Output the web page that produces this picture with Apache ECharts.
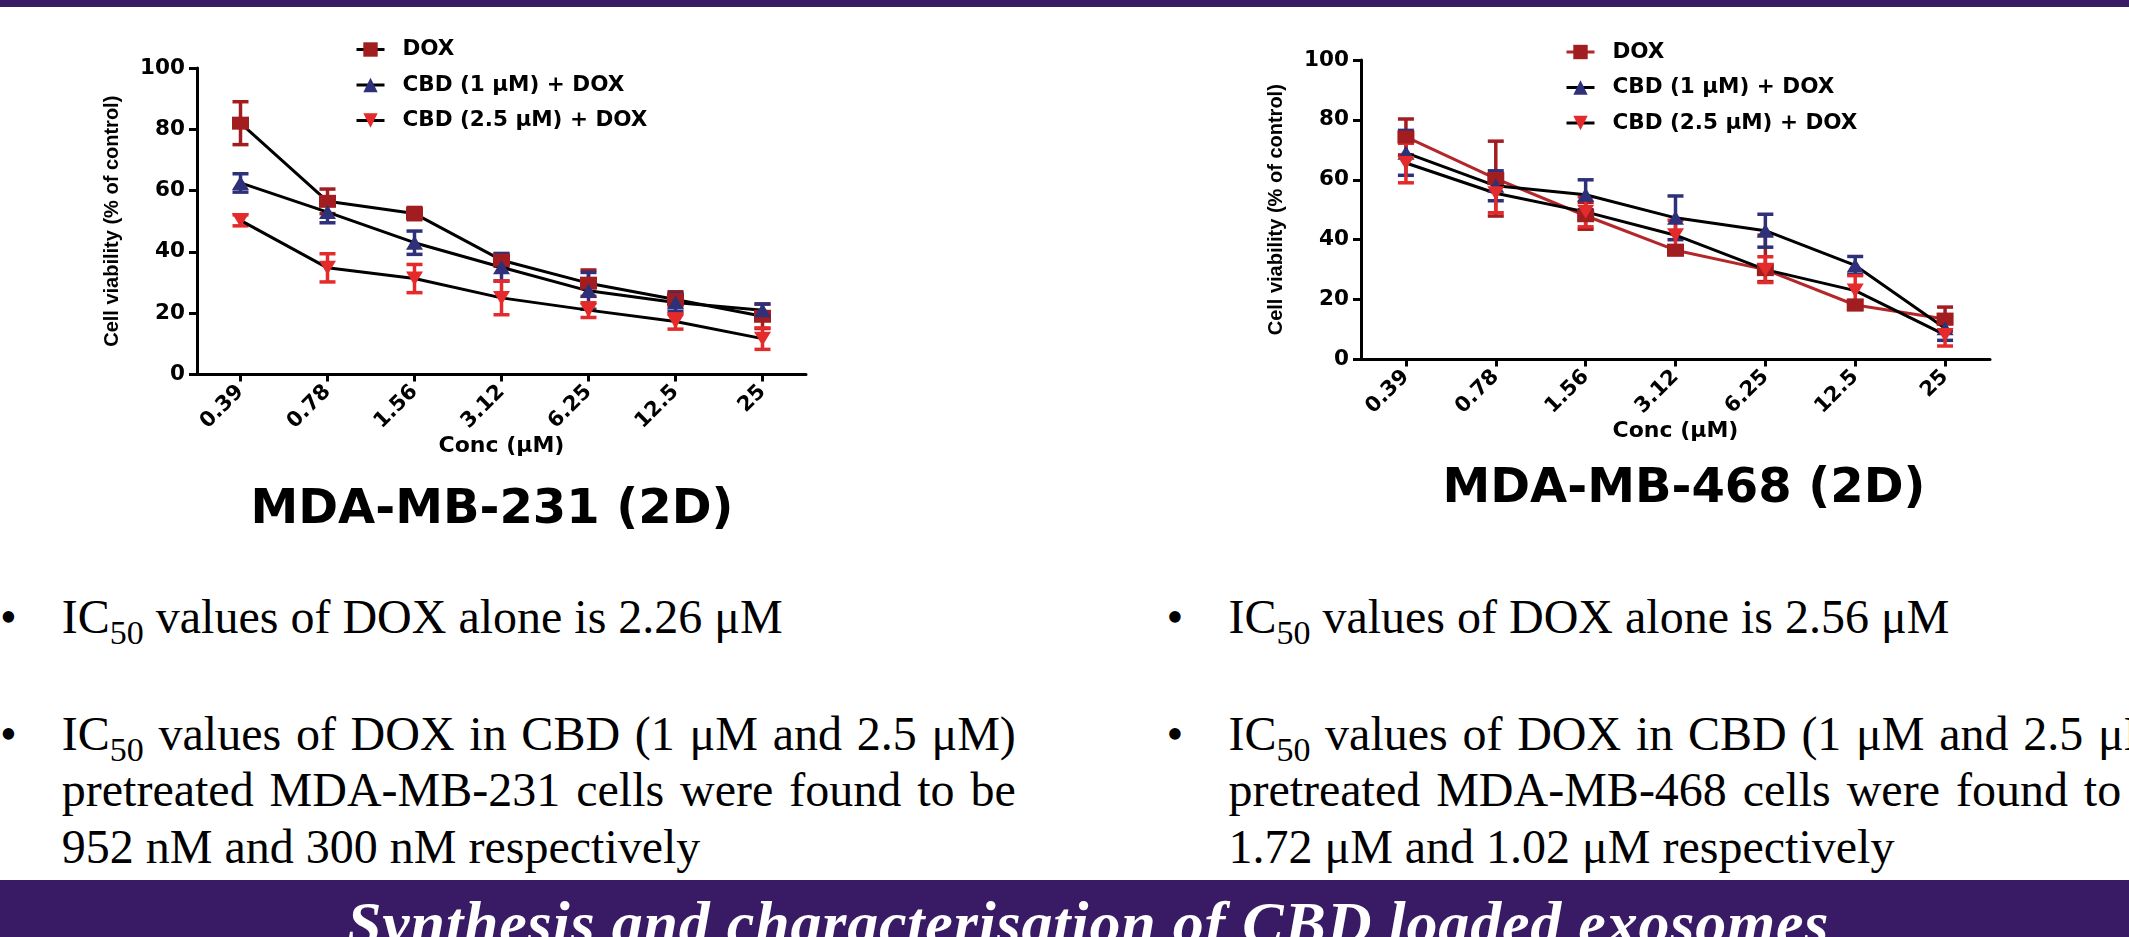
<!DOCTYPE html>
<html>
<head>
<meta charset="utf-8">
<title>DOX / CBD cell viability</title>
<script src="https://cdn.jsdelivr.net/npm/echarts@6.0.0/dist/echarts.min.js"></script>
<style>
  html, body { margin:0; padding:0; width:2129px; height:937px; overflow:hidden; background:#ffffff; }
  #chart { position:absolute; left:0; top:0; width:2129px; height:937px; z-index:2; }
  .band { position:absolute; left:0; width:2129px; background:#381b64; z-index:1; }
  .bul { position:absolute; z-index:1; font-family:"Liberation Serif","Times New Roman",serif; font-size:48px; line-height:56.5px; color:#000; text-align:justify; padding-left:61.8px; text-indent:-61.8px; width:954px; }
  .bul .dot { display:inline-block; width:61.8px; text-indent:0; }
  .bul sub { font-size:34px; vertical-align:-11px; line-height:0; }
  #banner { position:absolute; z-index:3; left:347px; top:891.5px; font-family:"Liberation Serif","Times New Roman",serif; font-weight:bold; font-style:italic; font-size:62px; line-height:62px; color:#fff; white-space:nowrap; letter-spacing:0.8px; }
</style>
</head>
<body>
<div class="band" style="top:0;height:7px;"></div>
<div class="band" style="top:880px;height:57px;"></div>
<div id="banner">Synthesis and characterisation of CBD loaded exosomes</div>

<div class="bul" style="left:0;top:588.5px;"><span class="dot">•</span>IC<sub>50</sub> values of DOX alone is 2.26 μM</div>
<div class="bul" style="left:0;top:705.5px;"><span class="dot">•</span>IC<sub>50</sub> values of DOX in CBD (1 μM and 2.5 μM) pretreated MDA-MB-231 cells were found to be 952 nM and 300 nM respectively</div>
<div class="bul" style="left:1166.6px;top:588.5px;"><span class="dot">•</span>IC<sub>50</sub> values of DOX alone is 2.56 μM</div>
<div class="bul" style="left:1166.6px;top:705.5px;"><span class="dot">•</span>IC<sub>50</sub> values of DOX in CBD (1 μM and 2.5 μM) pretreated MDA-MB-468 cells were found to be 1.72 μM and 1.02 μM respectively</div>

<div id="chart"></div>
<script>
// ---------------- data ----------------
const categories = ['0.39', '0.78', '1.56', '3.12', '6.25', '12.5', '25'];
const seriesNames = ['DOX', 'CBD (1 μM) + DOX', 'CBD (2.5 μM) + DOX'];
const panelTitles = ['MDA-MB-231 (2D)', 'MDA-MB-468 (2D)'];
const xAxisTitle = 'Conc (μM)';
const yAxisTitle = 'Cell viability (% of control)';
const yMin = 0, yMax = 100, yStep = 20;

// MDA-MB-231 (2D): mean and error (upper / lower), % of control
const mb231Dox      = [82, 56.5, 52.5, 37.3, 29.8, 24.5, 19];
const mb231DoxErr   = [7, 4, 2, 2, 4.3, 2.5, 4];
const mb231Cbd1     = [62.5, 53, 43, 35, 27.3, 23.5, 21];
const mb231Cbd1Err  = [3, 3.5, 3.8, 4.5, 6, 3, 2];
const mb231Cbd25    = [50.3, 34.8, 31.3, 25, 21, 17.3, 11.7];
const mb231Cbd25Err = [1.8, 4.6, 4.6, 5.5, 2.4, 2.5, 3.5];

// MDA-MB-468 (2D)
const mb468Dox        = [74.3, 60.4, 48, 36.5, 30, 18.2, 13.5];
const mb468DoxErrUp   = [6, 12.5, 4.5, 1.5, 11.5, 1.5, 4];
const mb468DoxErrDown = [6, 12.5, 4.5, 1.5, 4, 1.5, 4];
const mb468Cbd1       = [69, 58, 55, 47.3, 43, 31.4, 10.4];
const mb468Cbd1Err    = [7.5, 5, 5, 7.3, 5.5, 3, 4];
const mb468Cbd25      = [65.6, 55.5, 49.3, 41.5, 30, 23, 8.2];
const mb468Cbd25Err   = [6.6, 6.5, 5, 5, 4.3, 5, 3.7];

// ---------------- styles ----------------
const markerColors = ['#a11d20', '#2e3179', '#e42a2a'];
const markerSymbols = ['rect', 'triangle', 'path://M0,0L10,0L5,9Z'];
const markerSizes = [[17, 13], [17, 14], [17, 14]];
const boldWide = '"DejaVu Sans", sans-serif';

const panels = [
  { grid: { left: 197, top: 68, width: 609, height: 306.5 },
    sets: [[mb231Dox, mb231DoxErr, mb231DoxErr], [mb231Cbd1, mb231Cbd1Err, mb231Cbd1Err], [mb231Cbd25, mb231Cbd25Err, mb231Cbd25Err]],
    lineColors: ['#000', '#000', '#000'],
    legend: { left: 355, top: 38.5 }, title: { x: 492, y: 511 } },
  { grid: { left: 1361, top: 60, width: 629, height: 299.5 },
    sets: [[mb468Dox, mb468DoxErrUp, mb468DoxErrDown], [mb468Cbd1, mb468Cbd1Err, mb468Cbd1Err], [mb468Cbd25, mb468Cbd25Err, mb468Cbd25Err]],
    lineColors: ['#b3262a', '#000', '#000'],
    legend: { left: 1565, top: 41 }, title: { x: 1684, y: 490 } }
];

function makeErr(color) {
  return function (params, api) {
    const x = api.value(0);
    const lo = api.coord([x, api.value(1)]);
    const hi = api.coord([x, api.value(2)]);
    const w = 8;
    const st = { stroke: color, lineWidth: 3.5 };
    return { type: 'group', children: [
      { type: 'line', shape: { x1: lo[0], y1: lo[1], x2: hi[0], y2: hi[1] }, style: st },
      { type: 'line', shape: { x1: lo[0] - w, y1: lo[1], x2: lo[0] + w, y2: lo[1] }, style: st },
      { type: 'line', shape: { x1: hi[0] - w, y1: hi[1], x2: hi[0] + w, y2: hi[1] }, style: st }
    ] };
  };
}

const grids = [], xAxes = [], yAxes = [], legends = [], lineSeries = [], errSeries = [], graphics = [];
panels.forEach((p, pi) => {
  grids.push(Object.assign({ containLabel: false }, p.grid));
  xAxes.push({
    type: 'category', gridIndex: pi, data: categories, boundaryGap: true,
    axisLine: { show: true, lineStyle: { color: '#000', width: 3 } },
    axisTick: { show: true, alignWithLabel: true, length: 7, lineStyle: { color: '#000', width: 3 } },
    axisLabel: { rotate: 45, margin: 14, interval: 0, fontFamily: boldWide, fontWeight: 'bold', fontSize: 21, color: '#000' },
    splitLine: { show: false },
    name: xAxisTitle, nameLocation: 'middle', nameGap: 60,
    nameTextStyle: { fontFamily: boldWide, fontWeight: 'bold', fontSize: 22, color: '#000' }
  });
  yAxes.push({
    type: 'value', gridIndex: pi, min: yMin, max: yMax, interval: yStep,
    axisLine: { show: true, lineStyle: { color: '#000', width: 3 } },
    axisTick: { show: true, length: 8, lineStyle: { color: '#000', width: 3 } },
    axisLabel: { margin: 12, fontFamily: boldWide, fontWeight: 'bold', fontSize: 21.5, color: '#000' },
    splitLine: { show: false },
    name: yAxisTitle, nameLocation: 'middle', nameGap: 75,
    nameTextStyle: { fontFamily: '"Liberation Sans", Arial, sans-serif', fontWeight: 'bold', fontSize: 20, color: '#000' }
  });
  legends.push({
    orient: 'vertical', left: p.legend.left, top: p.legend.top, padding: 0,
    itemWidth: 28, itemHeight: 18, itemGap: 13.5, selectedMode: false,
    data: seriesNames.map((n, si) => ({ name: n, lineStyle: { color: p.lineColors[si], width: 3 } })),
    textStyle: { fontFamily: boldWide, fontWeight: 'bold', fontSize: 21.5, color: '#000', lineHeight: 22, padding: [0, 0, 0, 13] }
  });
  p.sets.forEach(([vals, errUp, errDown], si) => {
    lineSeries.push({
      type: 'line', name: seriesNames[si], xAxisIndex: pi, yAxisIndex: pi, data: vals,
      symbol: markerSymbols[si], symbolSize: markerSizes[si], showSymbol: true,
      itemStyle: { color: markerColors[si] },
      lineStyle: { color: p.lineColors[si], width: 3 },
      z: 4, emphasis: { disabled: true }
    });
    errSeries.push({
      type: 'custom', name: seriesNames[si] + ' error ' + pi, xAxisIndex: pi, yAxisIndex: pi,
      data: vals.map((v, i) => [i, v - errDown[i], v + errUp[i]]),
      encode: { x: 0, y: [1, 2] },
      renderItem: makeErr(markerColors[si]), z: 3, silent: true
    });
  });
  graphics.push({
    type: 'text', x: p.title.x, y: p.title.y,
    style: { text: panelTitles[pi], font: 'bold 48px "DejaVu Sans", sans-serif', fill: '#000', align: 'center', verticalAlign: 'middle' }
  });
});

const chart = echarts.init(document.getElementById('chart'), null, { renderer: 'canvas' });
chart.setOption({
  animation: false,
  backgroundColor: 'transparent',
  grid: grids, xAxis: xAxes, yAxis: yAxes, legend: legends,
  series: lineSeries.concat(errSeries),
  graphic: graphics,
  tooltip: { show: false }
});
</script>
</body>
</html>
